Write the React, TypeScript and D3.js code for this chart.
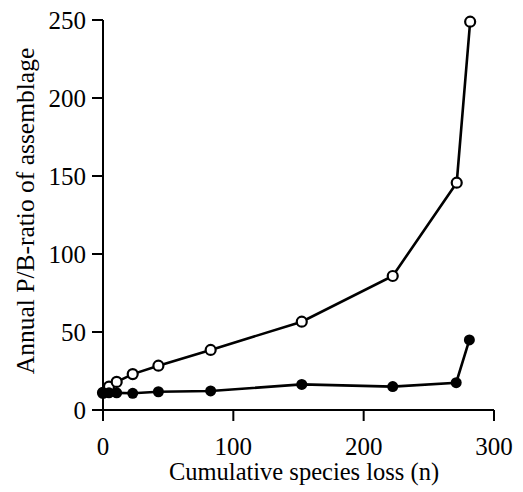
import React from "react";
import * as d3 from "d3";

const openX = [0, 4.6, 10.5, 22.8, 42.5, 82.6, 152.5, 222.3, 271.4, 281.7];
const openY = [11, 15, 18, 23, 28.4, 38.5, 56.6, 85.9, 145.7, 248.9];
const filledX = [0, 4.6, 10.5, 22.8, 42.5, 82.6, 152.5, 222.3, 271, 281.1];
const filledY = [11.1, 11, 11, 10.7, 11.7, 12.2, 16.4, 15, 17.5, 44.9];
const xTicks = [0, 100, 200, 300];
const yTicks = [0, 50, 100, 150, 200, 250];
const xTitle = "Cumulative species loss (n)";
const yTitle = "Annual P/B-ratio of assemblage";

export default function App() {
  const W = 523, H = 492;
  const x = d3.scaleLinear().domain([0, 300]).range([103, 494]);
  const y = d3.scaleLinear().domain([0, 250]).range([410, 20]);
  const tick = 11;
  const font = "Liberation Serif";
  const line = d3.line<[number, number]>().x(d => x(d[0])).y(d => y(d[1]));
  const openPts: [number, number][] = openX.map((v, i) => [v, openY[i]]);
  const filledPts: [number, number][] = filledX.map((v, i) => [v, filledY[i]]);
  return (
    <svg width={W} height={H} style={{ position: "absolute", left: 0, top: 0, background: "#fff" }}>
      <line x1={x(0)} x2={x(0)} y1={y(250)} y2={y(0) + tick} stroke="#000" strokeWidth={2} />
      <line x1={x(0) - tick} x2={x(300)} y1={y(0)} y2={y(0)} stroke="#000" strokeWidth={2} />
      {yTicks.map(t => (
        <g key={"y" + t}>
          <line x1={x(0) - tick} x2={x(0)} y1={y(t)} y2={y(t)} stroke="#000" strokeWidth={2} />
          <text x={86} y={y(t)} dy="0.35em" textAnchor="end" style={{ fontFamily: font, fontSize: 25 }}>{t}</text>
        </g>
      ))}
      {xTicks.map(t => (
        <g key={"x" + t}>
          <line x1={x(t)} x2={x(t)} y1={y(0)} y2={y(0) + tick} stroke="#000" strokeWidth={2} />
          <text x={x(t)} y={455} textAnchor="middle" style={{ fontFamily: font, fontSize: 25 }}>{t}</text>
        </g>
      ))}
      <text x={304} y={480} textAnchor="middle" style={{ fontFamily: font, fontSize: 24.5 }}>{xTitle}</text>
      <text transform={`translate(34,211) rotate(-90)`} textAnchor="middle" style={{ fontFamily: font, fontSize: 25.5 }}>{yTitle}</text>
      <path d={line(openPts) || ""} fill="none" stroke="#000" strokeWidth={2.6} />
      <path d={line(filledPts) || ""} fill="none" stroke="#000" strokeWidth={2.6} />
      {openPts.map((p, i) => (
        <circle key={"o" + i} cx={x(p[0])} cy={y(p[1])} r={5} fill="#fff" stroke="#000" strokeWidth={2.2} />
      ))}
      {filledPts.map((p, i) => (
        <circle key={"f" + i} cx={x(p[0])} cy={y(p[1])} r={5.5} fill="#000" />
      ))}
    </svg>
  );
}
